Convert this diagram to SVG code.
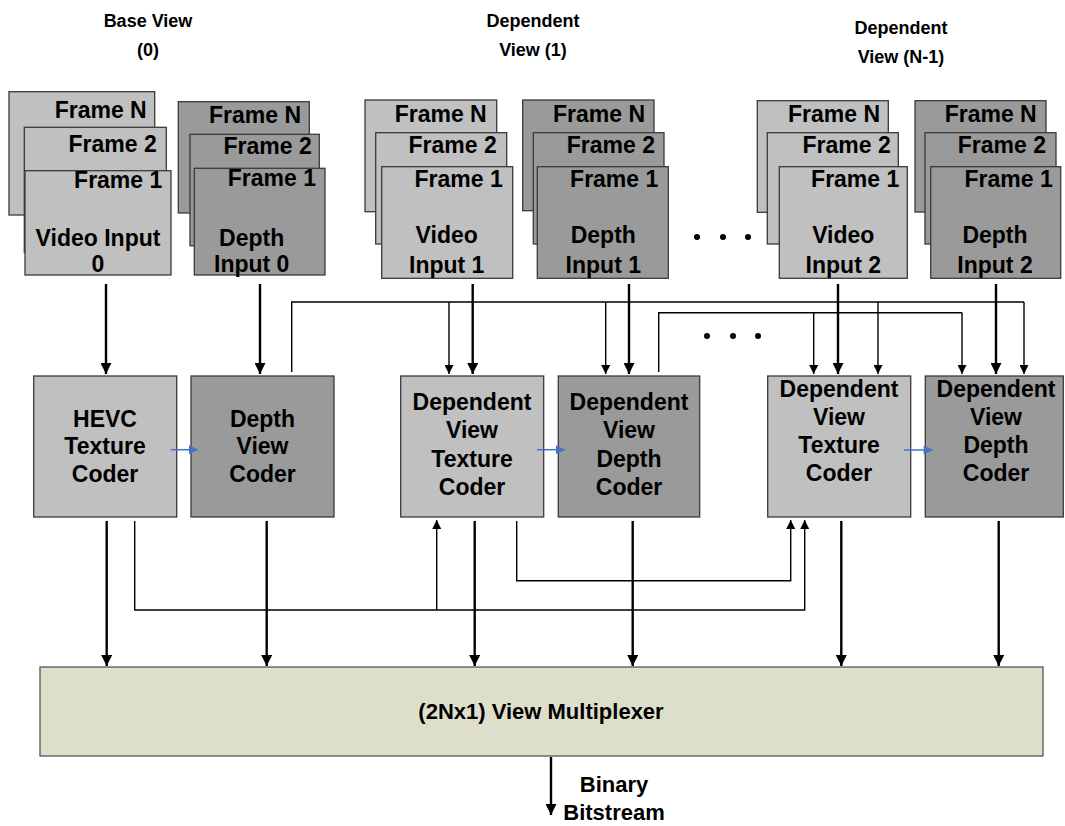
<svg xmlns="http://www.w3.org/2000/svg" width="1065" height="826" viewBox="0 0 1065 826">
<defs>
<style>
text{font-family:"Liberation Sans",Arial,sans-serif;font-weight:bold;fill:#000}
.t{font-size:23px}
.mx{font-size:22px}
.h{font-size:18px;text-anchor:middle}
.m{text-anchor:middle}
.e{text-anchor:end}
.lt{fill:#c0c0c0;stroke:#3a3a3a;stroke-width:1.3}
.dk{fill:#9a9a9a;stroke:#3a3a3a;stroke-width:1.3}
.mux{fill:#dddfcb;stroke:#555;stroke-width:1.3}
.thick{stroke:#000;stroke-width:2.4;fill:none}
.thin{stroke:#000;stroke-width:1.4;fill:none}
.blue{stroke:#4472c4;stroke-width:1.5;fill:none}
</style>
<marker id="ah" viewBox="0 0 10 10" refX="10" refY="5" markerWidth="12" markerHeight="11" markerUnits="userSpaceOnUse" orient="auto"><path d="M0,0 L10,5 L0,10 z" fill="#000"/></marker>
<marker id="ahs" viewBox="0 0 10 10" refX="10" refY="5" markerWidth="11" markerHeight="9" markerUnits="userSpaceOnUse" orient="auto"><path d="M0,0 L10,5 L0,10 z" fill="#000"/></marker>
<marker id="ahb" viewBox="0 0 10 10" refX="10" refY="5" markerWidth="10" markerHeight="9" markerUnits="userSpaceOnUse" orient="auto"><path d="M0,0 L10,5 L0,10 z" fill="#4472c4"/></marker>
</defs>
<rect width="1065" height="826" fill="#fff"/>

<g id="headers">
<text class="h" x="148" y="27">Base View</text>
<text class="h" x="148" y="56">(0)</text>
<text class="h" x="533" y="27">Dependent</text>
<text class="h" x="533" y="56">View (1)</text>
<text class="h" x="901" y="34">Dependent</text>
<text class="h" x="901" y="63">View (N-1)</text>
</g>

<g id="video-input-0">
<rect class="lt" x="9" y="91.7" width="145.7" height="123.3"/>
<rect class="lt" x="24.3" y="127.3" width="142" height="125"/>
<rect class="lt" x="25" y="170.7" width="146" height="104.3"/>
<text class="t e" x="146.7" y="118">Frame N</text>
<text class="t e" x="156.7" y="151.7">Frame 2</text>
<text class="t e" x="162.3" y="188.3">Frame 1</text>
<text class="t m" x="98" y="245.7">Video Input</text>
<text class="t m" x="98" y="272">0</text>
</g>

<g id="depth-input-0">
<rect class="dk" x="178.3" y="101.7" width="131" height="111.3"/>
<rect class="dk" x="190" y="134.3" width="129.3" height="111.4"/>
<rect class="dk" x="194.3" y="168.3" width="130.7" height="106.7"/>
<text class="t e" x="301" y="122.7">Frame N</text>
<text class="t e" x="311.7" y="154">Frame 2</text>
<text class="t e" x="316" y="186">Frame 1</text>
<text class="t m" x="251.7" y="245.7">Depth</text>
<text class="t m" x="251.7" y="272">Input 0</text>
</g>

<g id="video-input-1">
<rect class="lt" x="365" y="100" width="131.7" height="111.7"/>
<rect class="lt" x="375.7" y="132.7" width="131" height="111.3"/>
<rect class="lt" x="381.7" y="166.7" width="131" height="111.6"/>
<text class="t e" x="486.7" y="121.7">Frame N</text>
<text class="t e" x="496.7" y="153.3">Frame 2</text>
<text class="t e" x="502.7" y="187.3">Frame 1</text>
<text class="t m" x="446.7" y="243.3">Video</text>
<text class="t m" x="446.7" y="272.7">Input 1</text>
</g>

<g id="depth-input-1">
<rect class="dk" x="522.7" y="100" width="131.3" height="110.7"/>
<rect class="dk" x="533.3" y="132.7" width="130.7" height="111.3"/>
<rect class="dk" x="537.3" y="166.7" width="131" height="111.6"/>
<text class="t e" x="645" y="121.7">Frame N</text>
<text class="t e" x="655" y="153.3">Frame 2</text>
<text class="t e" x="658.3" y="187.3">Frame 1</text>
<text class="t m" x="603.3" y="243.3">Depth</text>
<text class="t m" x="603.3" y="272.7">Input 1</text>
</g>

<g id="video-input-2">
<rect class="lt" x="757.3" y="100.7" width="131" height="111.6"/>
<rect class="lt" x="767.3" y="132.7" width="131" height="111.3"/>
<rect class="lt" x="779.3" y="166.7" width="128" height="111.6"/>
<text class="t e" x="880" y="121.7">Frame N</text>
<text class="t e" x="890.7" y="153.3">Frame 2</text>
<text class="t e" x="899.3" y="187.3">Frame 1</text>
<text class="t m" x="843.3" y="243.3">Video</text>
<text class="t m" x="843.3" y="272.7">Input 2</text>
</g>

<g id="depth-input-2">
<rect class="dk" x="915" y="100.7" width="131" height="111.3"/>
<rect class="dk" x="925" y="132.7" width="131" height="111.3"/>
<rect class="dk" x="930.7" y="166.7" width="130" height="111.6"/>
<text class="t e" x="1036.7" y="121.7">Frame N</text>
<text class="t e" x="1046" y="153.3">Frame 2</text>
<text class="t e" x="1052.7" y="187.3">Frame 1</text>
<text class="t m" x="995" y="243.3">Depth</text>
<text class="t m" x="995" y="272.7">Input 2</text>
</g>

<g id="ellipsis">
<circle cx="697" cy="237" r="3"/>
<circle cx="723" cy="237" r="3"/>
<circle cx="748" cy="237" r="3"/>
<circle cx="707" cy="336" r="3"/>
<circle cx="733" cy="336" r="3"/>
<circle cx="758" cy="336" r="3"/>
</g>

<g id="hevc-texture-coder">
<rect class="lt" x="33.7" y="376" width="143" height="141"/>
<text class="t m" x="105" y="426.7">HEVC</text>
<text class="t m" x="105" y="454">Texture</text>
<text class="t m" x="105" y="481.7">Coder</text>
</g>

<g id="depth-view-coder">
<rect class="dk" x="191" y="376" width="143" height="141"/>
<text class="t m" x="262.5" y="426.7">Depth</text>
<text class="t m" x="262.5" y="454">View</text>
<text class="t m" x="262.5" y="481.7">Coder</text>
</g>

<g id="dep-texture-coder-1">
<rect class="lt" x="400.7" y="376" width="143" height="141"/>
<text class="t m" x="472" y="410">Dependent</text>
<text class="t m" x="472" y="438.3">View</text>
<text class="t m" x="472" y="466.7">Texture</text>
<text class="t m" x="472" y="495">Coder</text>
</g>

<g id="dep-depth-coder-1">
<rect class="dk" x="558.3" y="376" width="141.4" height="141"/>
<text class="t m" x="629" y="410">Dependent</text>
<text class="t m" x="629" y="438.3">View</text>
<text class="t m" x="629" y="466.7">Depth</text>
<text class="t m" x="629" y="495">Coder</text>
</g>

<g id="dep-texture-coder-2">
<rect class="lt" x="767.7" y="376" width="143" height="141"/>
<text class="t m" x="839" y="396.7">Dependent</text>
<text class="t m" x="839" y="425">View</text>
<text class="t m" x="839" y="452.7">Texture</text>
<text class="t m" x="839" y="480.7">Coder</text>
</g>

<g id="dep-depth-coder-2">
<rect class="dk" x="925.3" y="376" width="138" height="141"/>
<text class="t m" x="996" y="396.7">Dependent</text>
<text class="t m" x="996" y="425">View</text>
<text class="t m" x="996" y="452.7">Depth</text>
<text class="t m" x="996" y="480.7">Coder</text>
</g>

<g id="view-multiplexer">
<rect class="mux" x="40" y="667" width="1003" height="89"/>
<text class="mx m" x="541" y="719">(2Nx1) View Multiplexer</text>
</g>

<g id="output-label">
<text class="mx m" x="614" y="792">Binary</text>
<text class="mx m" x="614" y="820">Bitstream</text>
</g>

<g id="connectors">
<line class="thick" x1="106" y1="284" x2="106" y2="374" marker-end="url(#ah)"/>
<line class="thick" x1="260" y1="284" x2="260" y2="374" marker-end="url(#ah)"/>
<line class="thick" x1="472.7" y1="284" x2="472.7" y2="374" marker-end="url(#ah)"/>
<line class="thick" x1="629" y1="284" x2="629" y2="374" marker-end="url(#ah)"/>
<line class="thick" x1="838" y1="284" x2="838" y2="374" marker-end="url(#ah)"/>
<line class="thick" x1="996" y1="284" x2="996" y2="374" marker-end="url(#ah)"/>
<polyline class="thin" points="291.7,372 291.7,302 1024,302"/>
<line class="thin" x1="449" y1="302" x2="449" y2="374" marker-end="url(#ahs)"/>
<line class="thin" x1="605.7" y1="302" x2="605.7" y2="374" marker-end="url(#ahs)"/>
<line class="thin" x1="878" y1="302" x2="878" y2="374" marker-end="url(#ahs)"/>
<line class="thin" x1="1024" y1="302" x2="1024" y2="374" marker-end="url(#ahs)"/>
<polyline class="thin" points="658.7,372 658.7,312.7 962,312.7"/>
<line class="thin" x1="813.7" y1="312.7" x2="813.7" y2="374" marker-end="url(#ahs)"/>
<line class="thin" x1="962" y1="312.7" x2="962" y2="374" marker-end="url(#ahs)"/>
<line class="blue" x1="170.7" y1="449.7" x2="198" y2="449.7" marker-end="url(#ahb)"/>
<line class="blue" x1="537" y1="449.7" x2="565" y2="449.7" marker-end="url(#ahb)"/>
<line class="blue" x1="904" y1="450" x2="932.7" y2="450" marker-end="url(#ahb)"/>
<line class="thick" x1="106.7" y1="521" x2="106.7" y2="666" marker-end="url(#ah)"/>
<line class="thick" x1="266.7" y1="521" x2="266.7" y2="666" marker-end="url(#ah)"/>
<line class="thick" x1="474.7" y1="521" x2="474.7" y2="666" marker-end="url(#ah)"/>
<line class="thick" x1="632.7" y1="521" x2="632.7" y2="666" marker-end="url(#ah)"/>
<line class="thick" x1="841.3" y1="521" x2="841.3" y2="666" marker-end="url(#ah)"/>
<line class="thick" x1="998.7" y1="521" x2="998.7" y2="666" marker-end="url(#ah)"/>
<polyline class="thin" points="134.7,521 134.7,610 804.7,610 804.7,520" marker-end="url(#ahs)"/>
<line class="thin" x1="436.7" y1="610" x2="436.7" y2="520" marker-end="url(#ahs)"/>
<polyline class="thin" points="516.7,521 516.7,580.7 790.7,580.7 790.7,520" marker-end="url(#ahs)"/>
<line class="thick" x1="551" y1="757" x2="551" y2="815" marker-end="url(#ah)"/>
</g>
</svg>
